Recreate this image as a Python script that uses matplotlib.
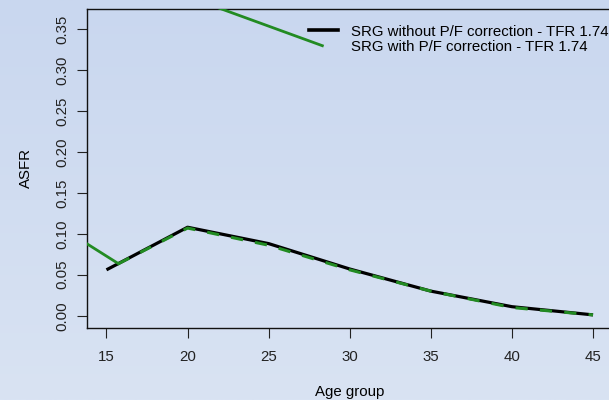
import numpy as np
import matplotlib.pyplot as plt
from matplotlib.lines import Line2D

# age-specific fertility rates by age group
ages = [15, 20, 25, 30, 35, 40, 45]
asfr_raw = [0.056, 0.108, 0.088, 0.057, 0.030, 0.011, 0.001]
asfr_pf = [0.0635, 0.107, 0.086, 0.056, 0.030, 0.010, 0.001]
ages_pf = [15.74, 20, 25, 30, 35, 40, 45]

# stray green segments
lead_x = [13.5, 15.74]
lead_y = [0.0915, 0.0635]
top_x = [21.0, 28.31]
top_y = [0.3823, 0.3296]

labels = ["SRG without P/F correction - TFR 1.74",
          "SRG with P/F correction - TFR 1.74"]

fs = 10.8
plt.rcParams['font.family'] = ['Liberation Sans', 'DejaVu Sans']
plt.rcParams['font.size'] = fs

W, H = 609, 400
fig = plt.figure(figsize=(W / 100, H / 100), dpi=100)

# background gradient
bg = fig.add_axes([0, 0, 1, 1], zorder=-10)
grad = np.linspace(0, 1, 256).reshape(-1, 1)
top_c = np.array([201, 215, 239]) / 255
bot_c = np.array([217, 227, 243]) / 255
img = top_c + (bot_c - top_c) * grad[:, :, None]
bg.imshow(img, aspect='auto', extent=[0, 1, 0, 1])
bg.axis('off')

ax = fig.add_axes([87 / W, 1 - 327.5 / H, 525.5 / W, 318.5 / H])
ax.patch.set_alpha(0)

green = '#228B22'
ax.plot(ages, asfr_raw, color='black', lw=2.3, solid_capstyle='butt', zorder=2)
ax.plot(ages_pf, asfr_pf, color=green, lw=2.2, dashes=(4, 4), zorder=3)
ax.plot(lead_x, lead_y, color=green, lw=2.0, zorder=3)
ax.plot(top_x, top_y, color=green, lw=2.0, zorder=3)

ax.set_xlim(13.8, 46.2)
ax.set_ylim(-0.0144, 0.3744)
ax.set_xticks(ages)
ax.set_yticks(np.arange(0, 0.36, 0.05))
ax.set_yticklabels([f"{v:.2f}" for v in np.arange(0, 0.36, 0.05)],
                   rotation=90, va='center')
ax.tick_params(direction='out', length=7, width=0.8, colors='#222222')
ax.tick_params(axis='x', pad=9)
ax.tick_params(axis='y', pad=6)
for s in ax.spines.values():
    s.set_linewidth(1.0)
    s.set_color('#111111')

ax.set_xlabel('Age group', labelpad=15)
ax.set_ylabel('ASFR', labelpad=16)

# legend drawn by hand, no frame
fig.add_artist(Line2D([309 / W, 338 / W], [1 - 29.5 / H, 1 - 29.5 / H],
                      color='black', lw=2.6, transform=fig.transFigure))
for i, lab in enumerate(labels):
    fig.text(351 / W, 1 - (32 + 15 * i) / H, lab, ha='left', va='center',
             fontsize=fs)

fig.savefig('out.png', dpi=100)
